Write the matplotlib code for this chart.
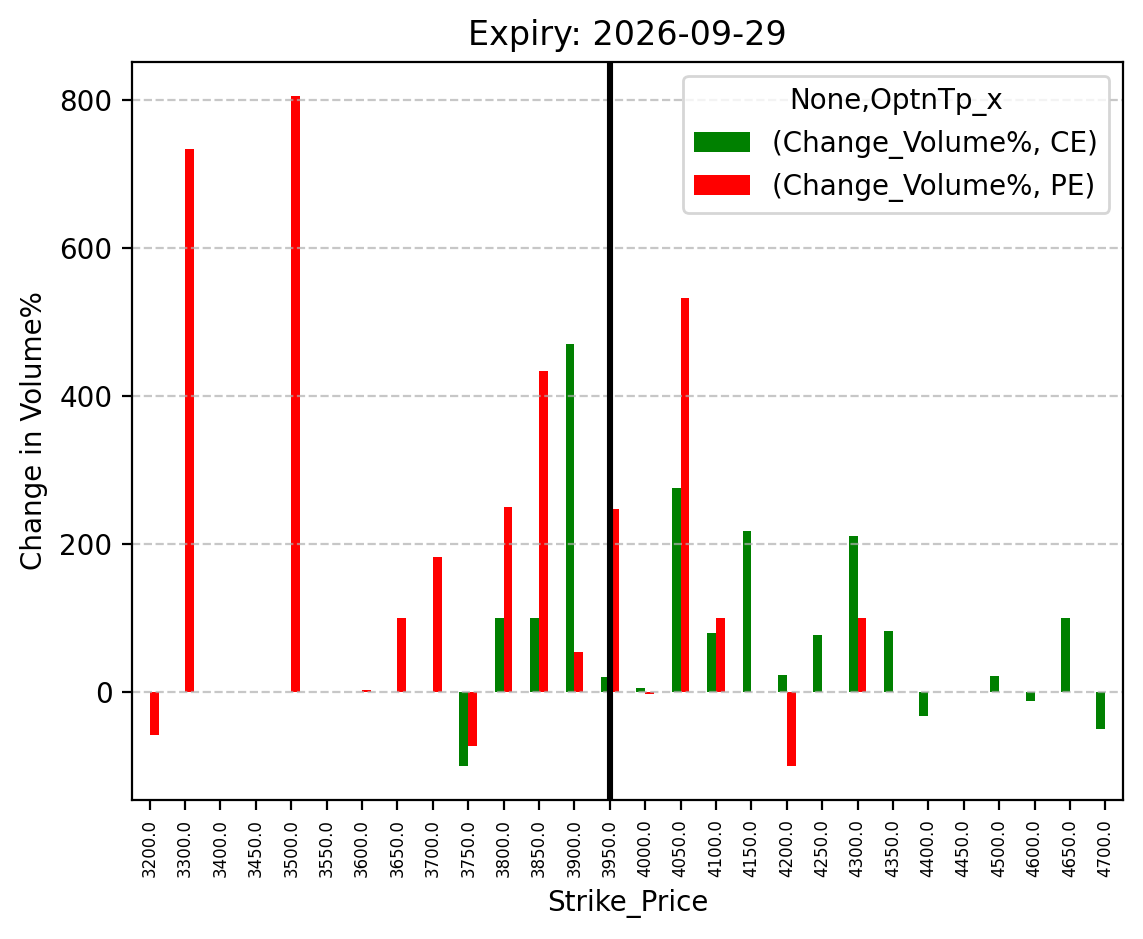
import matplotlib
matplotlib.use("Agg")
import matplotlib.pyplot as plt
import numpy as np
import pandas as pd

# Strike prices and % change in volume for calls (CE) and puts (PE)
strikes = [3200, 3300, 3400, 3450, 3500, 3550, 3600, 3650, 3700, 3750,
           3800, 3850, 3900, 3950, 4000, 4050, 4100, 4150, 4200, 4250,
           4300, 4350, 4400, 4450, 4500, 4600, 4650, 4700]
nan = np.nan
ce_change = [nan, nan, nan, nan, nan, nan, nan, nan, nan, -100,
             100, 100, 470, 21, 6.4, 276, 80.6, 218, 24, 78,
             211, 83, -31.6, nan, 22.6, -12, 100, -50]
pe_change = [-58, 734, nan, nan, 806, nan, 2.6, 100, 183, -73,
             250, 434, 55, 247.5, -2.6, 533, 100, nan, -100, nan,
             100, nan, nan, nan, nan, nan, nan, nan]
expiry = "2026-09-29"
atm_strike = 3950

columns = pd.MultiIndex.from_tuples(
    [("Change_Volume%", "CE"), ("Change_Volume%", "PE")], names=[None, "OptnTp_x"]
)
df = pd.DataFrame(
    np.column_stack([ce_change, pe_change]),
    index=pd.Index([float(s) for s in strikes], name="Strike_Price"),
    columns=columns,
)

fig = plt.figure(figsize=(5.715, 4.695), dpi=200)
ax = fig.add_axes([0.1155, 0.148, 0.867, 0.786])
df.plot(kind="bar", ax=ax, color=["green", "red"])

# Vertical line at the ATM strike
ax.axvline(x=strikes.index(atm_strike), color="black", linewidth=2.2)

ax.set_title(f"Expiry: {expiry}")
ax.set_xlabel("Strike_Price")
ax.set_ylabel("Change in Volume%")
ax.tick_params(axis="x", labelsize=6, labelrotation=90)
ax.grid(axis="y", linestyle="--", alpha=0.7)
ax.legend(title="None,OptnTp_x")

fig.savefig("out.png", dpi=200)
plt.close(fig)
